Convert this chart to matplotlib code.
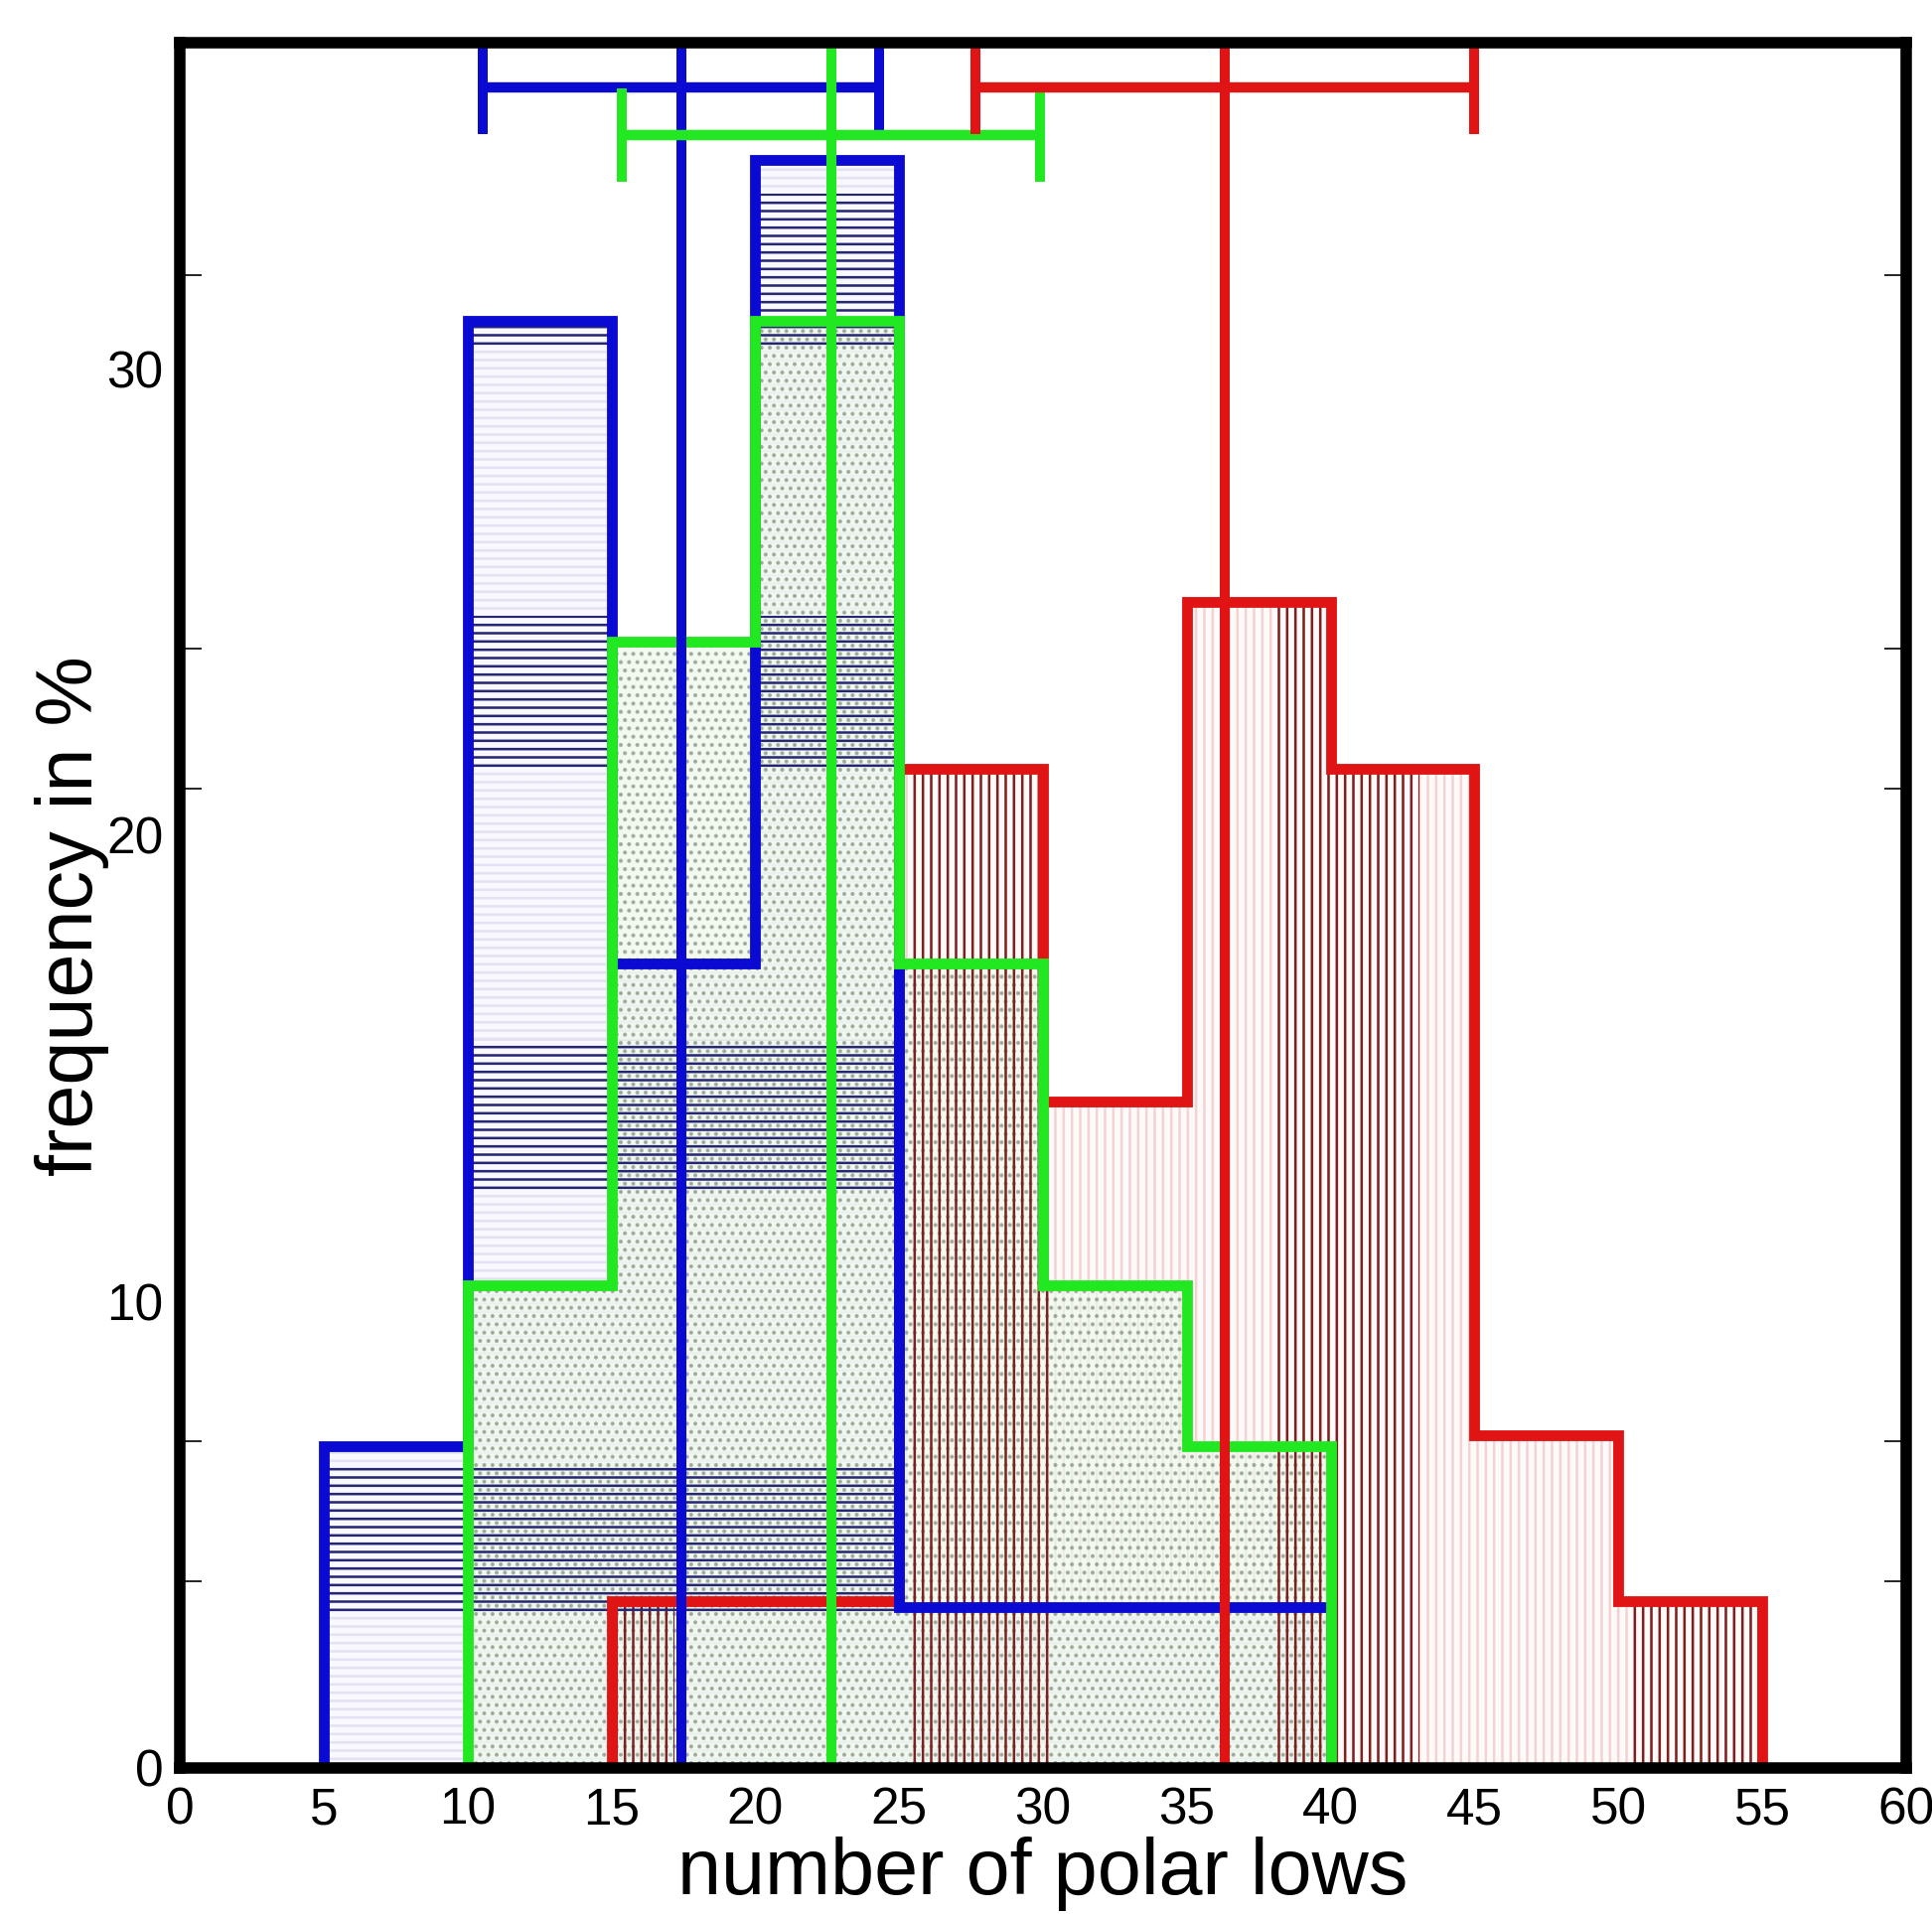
import matplotlib
matplotlib.use("Agg")
import matplotlib.pyplot as plt

plt.rcParams['font.family'] = ['Liberation Sans', 'DejaVu Sans']
plt.rcParams['hatch.linewidth'] = 1.8

# histogram values (percent of seasons) per bin of number of polar lows
blue_edges = [5, 10, 15, 20, 25, 30, 35, 40]
blue_pct = [6.90, 31.03, 17.24, 34.48, 3.45, 3.45, 3.45]

green_edges = [10, 15, 20, 25, 30, 35, 40]
green_pct = [10.34, 24.14, 31.03, 17.24, 10.34, 6.90]

red_edges = [15, 20, 25, 30, 35, 40, 45, 50, 55]
red_pct = [3.57, 3.57, 21.43, 14.29, 25.00, 21.43, 7.14, 3.57]

# mean and spread (error bar at top) for each series
series_colors = ['#0a0ad2', '#22e822', '#e01414']
means = [17.42, 22.63, 36.32]
spreads = [6.90, 7.27, 8.67]
err_y = [36.03, 35.00, 36.03]

x_ticks = [0, 5, 10, 15, 20, 25, 30, 35, 40, 45, 50, 55, 60]
y_ticks = [0, 10, 20, 30]
y_minor = [4, 7, 21, 24, 32]
x_minor = [10, 35, 50, 55]

# scanned-look hatch bands (dark hatch only inside these ranges)
blue_dense_bands = [(3.3, 6.5), (12.3, 15.6), (21.4, 24.7), (30.4, 33.75)]
red_dense_bands = [(12.6, 17.2), (25.3, 30.2), (38.1, 43.1), (50.4, 55.3)]

fig = plt.figure(figsize=(19.45, 19.27), dpi=100)
ax = fig.add_axes([0.0931, 0.0763, 0.8935, 0.9016])

# fills with faint hatching
red_fill = ax.stairs(red_pct, red_edges, fill=True, facecolor='#fffafa',
                     edgecolor='#f3d2d2', hatch='||', lw=0, zorder=1.0)
blue_fill = ax.stairs(blue_pct, blue_edges, fill=True, facecolor='#f8f8fe',
                      edgecolor='#e2e2f2', hatch='--', lw=0, zorder=1.1)
green_fill = ax.stairs(green_pct, green_edges, fill=True,
                       facecolor=(0.93, 0.975, 0.92, 0.7),
                       edgecolor=(0.40, 0.45, 0.38, 0.5),
                       hatch='..', lw=0, zorder=1.2)

# dark hatch bands clipped to the histogram shapes
for lo, hi in red_dense_bands:
    band = ax.axvspan(lo, hi, facecolor='none', edgecolor='#7d2020',
                      hatch='||', lw=0, zorder=2.0)
    band.set_clip_path(red_fill)
for lo, hi in blue_dense_bands:
    band = ax.axhspan(lo, hi, facecolor='none', edgecolor='#262673',
                      hatch='--', lw=0, zorder=2.1)
    band.set_clip_path(blue_fill)

# step outlines
for vals, edges, col, z in [(red_pct, red_edges, series_colors[2], 3.0),
                            (blue_pct, blue_edges, series_colors[0], 3.1),
                            (green_pct, green_edges, series_colors[1], 3.2)]:
    ax.stairs(vals, edges, color=col, lw=7.8, baseline=0, zorder=z,
              joinstyle='miter')

# mean lines and error bars
for m, s, yy, col in zip(means, spreads, err_y, series_colors):
    ax.axvline(m, color=col, lw=7.2, zorder=4)
    ax.errorbar(m, yy, xerr=s, fmt='none', ecolor=col, elinewidth=7.5,
                capsize=34, capthick=7.2, zorder=4)

ax.set_xlim(0, 60)
ax.set_ylim(0, 37)

ax.set_xticks(x_ticks)
ax.set_yticks(y_ticks)
ax.set_xticks(x_minor, minor=True)
ax.set_yticks(y_minor, minor=True)
ax.tick_params(which='major', length=0, labelsize=37)
ax.tick_params(axis='x', which='major', pad=13)
ax.tick_params(axis='y', which='major', pad=12)
ax.tick_params(axis='x', which='minor', direction='in', top=True,
               bottom=True, length=30, width=1.2)
ax.tick_params(axis='y', which='minor', direction='in', left=True,
               right=True, length=16, width=1.2)

for sp in ax.spines.values():
    sp.set_linewidth(8.3)
    sp.set_zorder(6)

ax.set_xlabel("number of polar lows", fontsize=57, va='baseline')
ax.xaxis.set_label_coords(0.5, -0.073)
ax.set_ylabel("frequency in %", fontsize=57, va='baseline')
ax.yaxis.set_label_coords(-0.0506, 0.494)

fig.savefig("out.png", dpi=100)
